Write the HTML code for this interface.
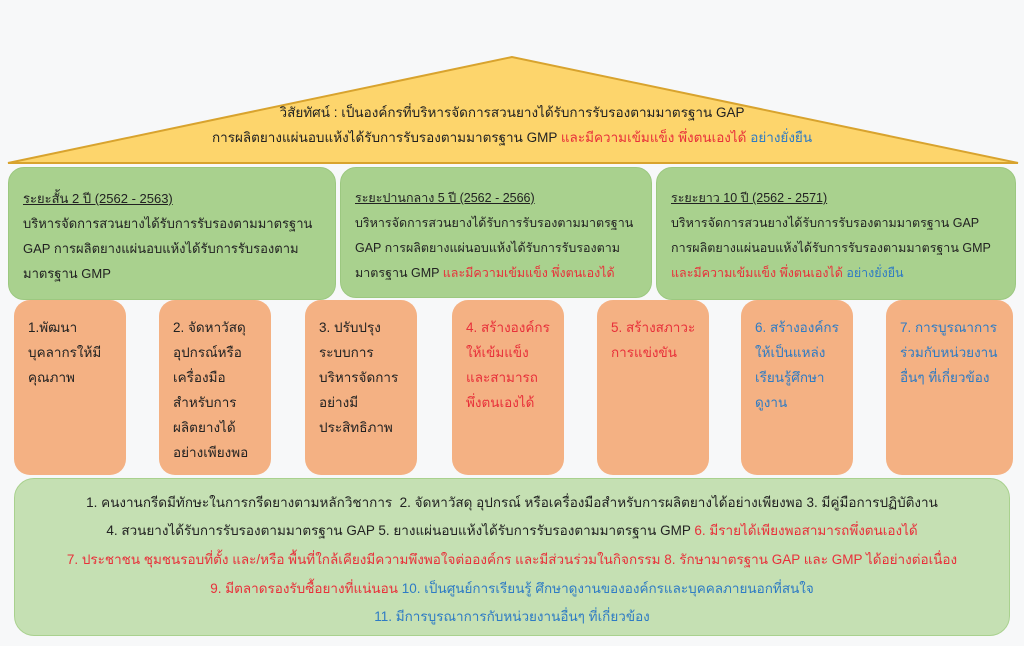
<!DOCTYPE html>
<html><head><meta charset="utf-8"><style>
body{margin:0;width:1024px;height:646px;background:#f7f8f9;position:relative;overflow:hidden;font-family:"Liberation Sans","Noto Sans CJK SC",sans-serif;color:#222;}
.b{position:absolute;box-sizing:border-box;}
.g{background:#a9d18e;border:1px solid #9cc880;border-radius:16px;font-size:13px;line-height:25px;padding:18px 0 0 14px;white-space:nowrap;overflow:hidden;}
.o{background:#f4b183;border-radius:16px;font-size:13.5px;line-height:25px;padding:15px 0 0 14px;white-space:nowrap;}
.r{color:#e8303a}.bl{color:#2e7bc4}
u{text-decoration:underline}
.t{position:absolute;left:0;width:1024px;text-align:center;font-size:13.5px;white-space:nowrap;}
</style></head><body>
<svg class="b" style="left:0;top:0" width="1024" height="170"><polygon points="512,57 8,163 1018,163" fill="#fdd56c" stroke="#d8a32e" stroke-width="2"/></svg>
<div class="t" style="top:101px">วิสัยทัศน์ : เป็นองค์กรที่บริหารจัดการสวนยางได้รับการรับรองตามมาตรฐาน GAP</div>
<div class="t" style="top:126px">การผลิตยางแผ่นอบแห้งได้รับการรับรองตามมาตรฐาน GMP <span class="r">และมีความเข้มแข็ง พึ่งตนเองได้</span> <span class="bl">อย่างยั่งยืน</span></div>
<div class="b g" style="left:8px;top:167px;width:328px;height:133px"><u>ระยะสั้น 2 ปี (2562 - 2563)</u><br>บริหารจัดการสวนยางได้รับการรับรองตามมาตรฐาน<br>GAP การผลิตยางแผ่นอบแห้งได้รับการรับรองตาม<br>มาตรฐาน GMP</div>
<div class="b g" style="left:340px;top:167px;width:312px;height:131px;font-size:12.5px"><u>ระยะปานกลาง 5 ปี (2562 - 2566)</u><br>บริหารจัดการสวนยางได้รับการรับรองตามมาตรฐาน<br>GAP การผลิตยางแผ่นอบแห้งได้รับการรับรองตาม<br>มาตรฐาน GMP <span class="r">และมีความเข้มแข็ง พึ่งตนเองได้</span></div>
<div class="b g" style="left:656px;top:167px;width:360px;height:133px;font-size:12.5px"><u>ระยะยาว 10 ปี (2562 - 2571)</u><br>บริหารจัดการสวนยางได้รับการรับรองตามมาตรฐาน GAP<br>การผลิตยางแผ่นอบแห้งได้รับการรับรองตามมาตรฐาน GMP<br><span class="r">และมีความเข้มแข็ง พึ่งตนเองได้</span> <span class="bl">อย่างยั่งยืน</span></div>
<div class="b o" style="left:14px;top:300px;width:112px;height:175px">1.พัฒนา<br>บุคลากรให้มี<br>คุณภาพ</div>
<div class="b o" style="left:159px;top:300px;width:112px;height:175px">2. จัดหาวัสดุ<br>อุปกรณ์หรือ<br>เครื่องมือ<br>สำหรับการ<br>ผลิตยางได้<br>อย่างเพียงพอ</div>
<div class="b o" style="left:305px;top:300px;width:112px;height:175px">3. ปรับปรุง<br>ระบบการ<br>บริหารจัดการ<br>อย่างมี<br>ประสิทธิภาพ</div>
<div class="b o r" style="left:452px;top:300px;width:112px;height:175px">4. สร้างองค์กร<br>ให้เข้มแข็ง<br>และสามารถ<br>พึ่งตนเองได้</div>
<div class="b o r" style="left:597px;top:300px;width:112px;height:175px">5. สร้างสภาวะ<br>การแข่งขัน</div>
<div class="b o bl" style="left:741px;top:300px;width:112px;height:175px">6. สร้างองค์กร<br>ให้เป็นแหล่ง<br>เรียนรู้ศึกษา<br>ดูงาน</div>
<div class="b o bl" style="left:886px;top:300px;width:127px;height:175px">7. การบูรณาการ<br>ร่วมกับหน่วยงาน<br>อื่นๆ ที่เกี่ยวข้อง</div>
<div class="b" style="left:14px;top:478px;width:996px;height:158px;background:#c5e0b3;border:1px solid #a9d18e;border-radius:20px"></div>
<div class="t" style="top:491px">1. คนงานกรีดมีทักษะในการกรีดยางตามหลักวิชาการ &nbsp;2. จัดหาวัสดุ อุปกรณ์ หรือเครื่องมือสำหรับการผลิตยางได้อย่างเพียงพอ 3. มีคู่มือการปฏิบัติงาน</div>
<div class="t" style="top:519px">4. สวนยางได้รับการรับรองตามมาตรฐาน GAP 5. ยางแผ่นอบแห้งได้รับการรับรองตามมาตรฐาน GMP <span class="r">6. มีรายได้เพียงพอสามารถพึ่งตนเองได้</span></div>
<div class="t r" style="top:548px">7. ประชาชน ชุมชนรอบที่ตั้ง และ/หรือ พื้นที่ใกล้เคียงมีความพึงพอใจต่อองค์กร และมีส่วนร่วมในกิจกรรม 8. รักษามาตรฐาน GAP และ GMP ได้อย่างต่อเนื่อง</div>
<div class="t" style="top:577px"><span class="r">9. มีตลาดรองรับซื้อยางที่แน่นอน</span> <span class="bl">10. เป็นศูนย์การเรียนรู้ ศึกษาดูงานขององค์กรและบุคคลภายนอกที่สนใจ</span></div>
<div class="t bl" style="top:605px">11. มีการบูรณาการกับหน่วยงานอื่นๆ ที่เกี่ยวข้อง</div>
</body></html>
